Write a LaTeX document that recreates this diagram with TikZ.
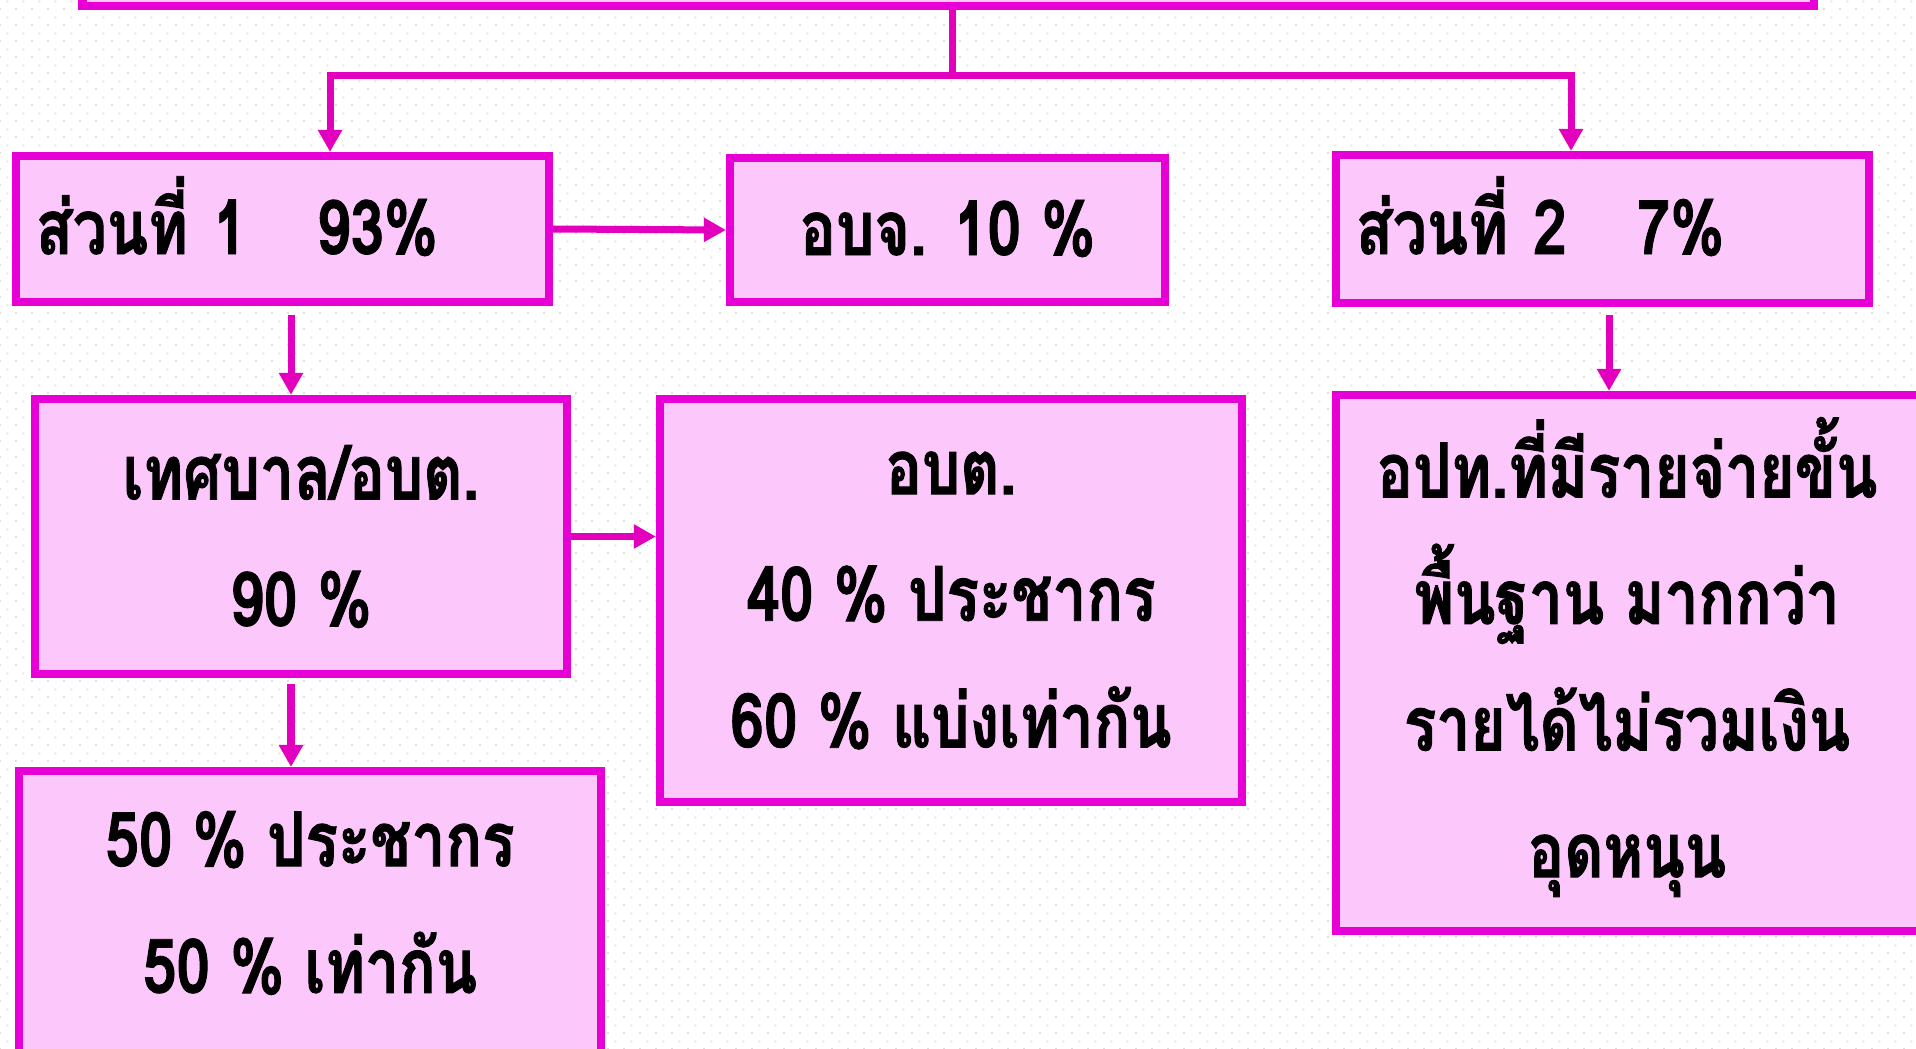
\documentclass[tikz,border=0pt]{standalone}
\usepackage{fontspec}
\usetikzlibrary{arrows.meta}
\usetikzlibrary{patterns.meta}
\newfontfamily\thai[Script=Thai,FakeStretch=0.8,BoldFeatures={FakeBold=1.2}]{Loma}
\definecolor{boxline}{RGB}{230,0,214}
\definecolor{boxfill}{RGB}{252,200,252}
\definecolor{linkline}{RGB}{226,0,190}
\definecolor{dotgray}{RGB}{222,222,222}

\tikzdeclarepattern{
  name=griddots,
  type=uncolored,
  bounding box={(0pt,0pt) and (4.552pt,4.552pt)},
  tile size={(4.552pt,4.552pt)},
  code={
    \pgfpathrectangle{\pgfpoint{0pt}{0pt}}{\pgfpoint{0.57pt}{0.57pt}}
    \pgfpathrectangle{\pgfpoint{2.276pt}{2.276pt}}{\pgfpoint{0.57pt}{0.57pt}}
    \pgfusepath{fill}
  }
}

\begin{document}
\begin{tikzpicture}[x=0.01cm, y=-0.01cm,
  box/.style={draw=boxline, fill=boxfill, line width=0.08cm, inner sep=0pt},
  txt/.style={font=\thai\bfseries\fontsize{21.5}{36}\selectfont, align=center, inner sep=0pt},
  oneline/.style={text height=0.62cm, text depth=0.12cm},
  link/.style={draw=linkline, line width=0.07cm},
  arr/.style={link, -{Triangle[length=0.22cm,width=0.23cm]}}]
  \useasboundingbox (0,0) rectangle (1916,1049);
  \clip (0,0) rectangle (1916,1049);
  \fill[pattern=griddots, pattern color=dotgray] (0,0) rectangle (1916,1049);

  \node[box, minimum width=17.30cm, minimum height=1cm] (root) at (948,-44) {};
  \node[box, txt, oneline, minimum width=5.33cm, minimum height=1.46cm, text width=4.93cm, align=left] (p1) at (282.5,229) {ส่วนที่ 1\hspace{0.7cm}93\%};
  \node[box, txt, oneline, minimum width=4.35cm, minimum height=1.44cm] (pjc) at (947.5,230) {อบจ. 10 \%};
  \node[box, txt, oneline, minimum width=5.33cm, minimum height=1.48cm, text width=4.93cm, align=left] (p2) at (1602.5,229) {ส่วนที่ 2\hspace{0.7cm}7\%};
  \node[box, txt, minimum width=5.32cm, minimum height=2.75cm] (tes) at (301,536.5) {เทศบาล/อบต.\\90 \%};
  \node[box, txt, minimum width=5.82cm, minimum height=4.03cm] (obt) at (951,600.5) {อบต.\\40 \% ประชากร\\60 \% แบ่งเท่ากัน};
  \node[box, minimum width=5.82cm, minimum height=3.5cm, anchor=north] (half) at (310,767) {};
  \node[txt] (halftxt) at (310,903) {50 \% ประชากร\\50 \% เท่ากัน};
  \node[box, minimum width=6.8cm, minimum height=5.36cm, anchor=north west] (opt) at (1332,391) {};
  \node[txt] (opttxt) at (1627,657) {อปท.ที่มีรายจ่ายขั้น\\พื้นฐาน มากกว่า\\รายได้ไม่รวมเงิน\\อุดหนุน};

  \coordinate (fork) at (952,76);
  \draw[link] (root.south -| fork) -- (fork);
  \draw[arr] (fork) -| ([xshift=0.475cm]p1.north);
  \draw[arr] (fork) -| ([xshift=-0.315cm]p2.north);
  \draw[arr] (p1.east) -- (pjc.west);
  \draw[arr, shorten <=0.09cm] ([xshift=0.085cm]p1.south) -- ([xshift=0.085cm]p1.south |- tes.north);
  \draw[arr, shorten <=0.08cm] ([xshift=0.065cm]p2.south) -- ([xshift=0.065cm]p2.south |- opt.north);
  \draw[arr] (tes.east) -- (tes.east -| obt.west);
  \draw[arr, shorten <=0.06cm] ([xshift=-0.1cm]tes.south) -- ([xshift=-0.1cm]tes.south |- half.north);
\end{tikzpicture}
\end{document}
